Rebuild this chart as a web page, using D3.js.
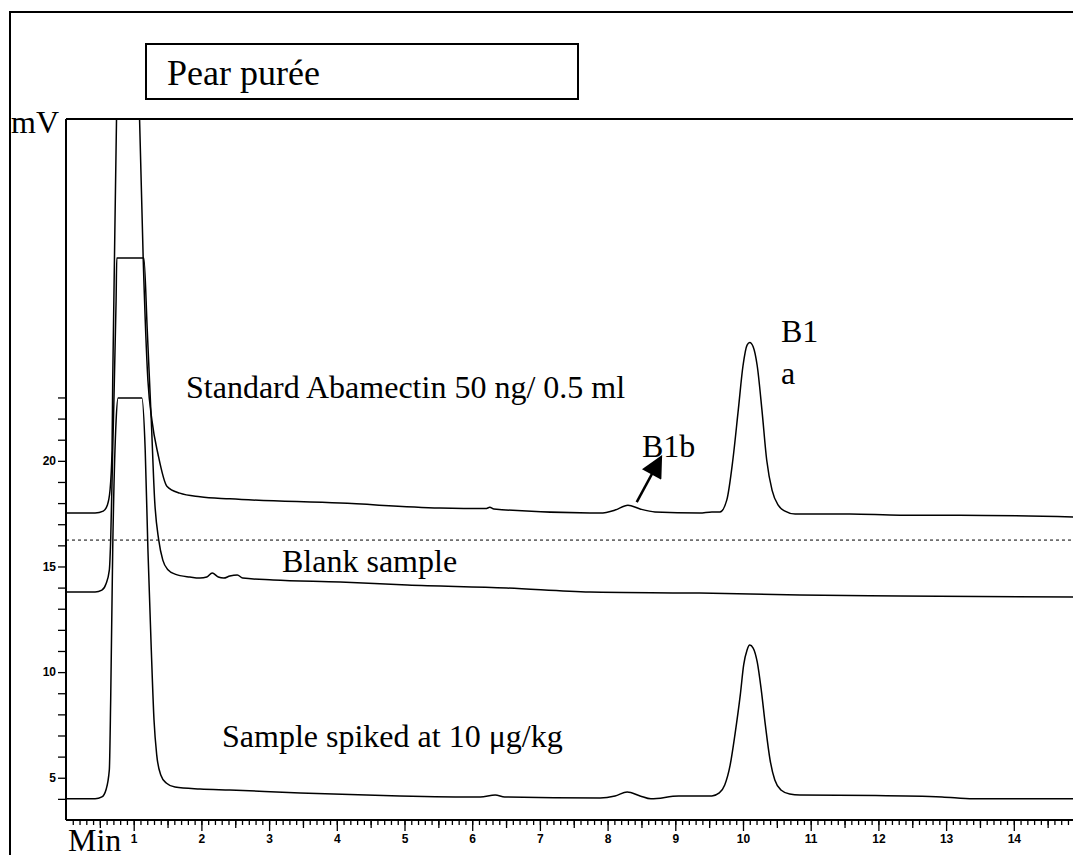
<!DOCTYPE html>
<html>
<head>
<meta charset="utf-8">
<script src="https://cdn.jsdelivr.net/npm/d3@7"></script>
<style>
  body { margin: 0; background: #fff; }
  svg { display: block; }
  .lbl { font-family: "Liberation Serif", "Times New Roman", serif; fill: #000; }
  .tick text { font-family: "Liberation Sans", Arial, sans-serif; font-weight: bold; font-size: 12px; }
</style>
</head>
<body>
<div id="chart"></div>
<script>
// retention time (min) / signal (mV)
var standardTime = [0, 0.43, 0.55, 0.61, 0.65, 0.68, 0.69, 0.75, 0.76, 1.06, 1.08, 1.14, 1.21, 1.27, 1.36, 1.49, 1.68, 1.98, 2.42,
    4.05, 5.52, 6.2, 6.26, 6.32, 7.74, 7.89, 8.11, 8.3, 8.48, 8.7, 9.36, 9.54, 9.66, 9.76, 9.85, 9.93, 10.0, 10.06, 10.1,
    10.15, 10.21, 10.28, 10.35, 10.43, 10.52, 10.62, 10.77, 11.58, 12.32, 13.2, 14.9];
var standardMv = [17.53, 17.53, 17.62, 17.9, 18.6, 20.5, 23.8, 37, 40, 40, 37, 29.6, 23.8, 21.9, 20.3, 18.8, 18.47, 18.3, 18.2,
    18.0, 17.77, 17.74, 17.8, 17.72, 17.53, 17.53, 17.67, 17.9, 17.72, 17.58, 17.53, 17.58, 17.58, 18.14, 20.04, 22.4, 24.5, 25.48, 25.6,
    25.4, 24.5, 22.4, 20.04, 18.6, 17.9, 17.62, 17.48, 17.48, 17.43, 17.43, 17.34];

var blankTime = [0, 0.43, 0.53, 0.59, 0.64, 0.66, 0.69, 0.74, 0.75, 1.15, 1.2, 1.26, 1.31, 1.37, 1.43, 1.51, 1.61, 1.83, 1.98,
    2.08, 2.16, 2.25, 2.33, 2.42, 2.53, 2.61, 3.06, 4.05, 5.04, 6.51, 7.74, 9.36, 10.84, 12.32, 14.9];
var blankMv = [13.79, 13.79, 13.88, 14.17, 14.83, 16.25, 20.5, 27.6, 29.6, 29.6, 26.2, 21.9, 18.1, 16.25, 15.3, 14.83, 14.64, 14.5, 14.45,
    14.5, 14.69, 14.5, 14.45, 14.55, 14.6, 14.45, 14.36, 14.26, 14.12, 13.98, 13.79, 13.74, 13.65, 13.6, 13.55];

var spikedTime = [0, 0.43, 0.53, 0.59, 0.64, 0.66, 0.69, 0.74, 0.77, 1.12, 1.17, 1.21, 1.26, 1.3, 1.34, 1.4, 1.48, 1.61, 1.98, 2.42,
    3.46, 4.93, 6.12, 6.34, 6.48, 7.89, 8.11, 8.29, 8.48, 8.64, 9.05, 9.47, 9.54, 9.65, 9.73, 9.81, 9.88, 9.96, 10.01, 10.06, 10.1,
    10.15, 10.21, 10.27, 10.33, 10.4, 10.47, 10.56, 10.69, 10.84, 11.96, 12.94, 13.4, 14.9];
var spikedMv = [4.0, 4.0, 4.09, 4.42, 5.37, 8.68, 15.8, 21.9, 22.97, 22.97, 20.5, 15.8, 11.05, 7.73, 6.08, 5.13, 4.75, 4.56, 4.47, 4.42,
    4.28, 4.14, 4.09, 4.18, 4.09, 4.04, 4.14, 4.33, 4.14, 4.0, 4.14, 4.14, 4.14, 4.28, 4.66, 5.6, 7.02, 8.92, 10.34, 11.05, 11.28,
    11.14, 10.48, 9.15, 7.5, 5.84, 4.89, 4.42, 4.23, 4.18, 4.16, 4.09, 4.0, 4.0];

var dividerMv = 16.25;
var yTickValues = [4, 5, 6, 7, 8, 9, 10, 11, 12, 13, 14, 15, 16, 17, 18, 19, 20, 21, 22, 23];
var xLabelValues = [1, 2, 3, 4, 5, 6, 7, 8, 9, 10, 11, 12, 13, 14];
// B1b arrow: tail and tip (min, mV)
var arrowTime = [8.43, 8.79];
var arrowMv = [18.05, 20.18];

function drawChart() {
    var W = 1073, H = 855;
    var plotLeft = 66, plotTop = 119, plotBottom = 820;

    var svg = d3.select("#chart").append("svg")
        .attr("width", W)
        .attr("height", H);

    var x = d3.scaleLinear().domain([0, 15]).range([plotLeft, plotLeft + 15 * 67.7]);
    var y = d3.scaleLinear().domain([3, 36.18]).range([plotBottom, plotTop]);

    var defs = svg.append("defs");

    // outer frame
    svg.append("path")
        .attr("d", "M10," + H + "V12H" + W)
        .attr("fill", "none").attr("stroke", "#000").attr("stroke-width", 2);

    // title box
    svg.append("rect")
        .attr("x", 146).attr("y", 44).attr("width", 432).attr("height", 55)
        .attr("fill", "none").attr("stroke", "#000").attr("stroke-width", 2);
    svg.append("text").attr("class", "lbl")
        .attr("x", 167).attr("y", 85).style("font-size", "36px")
        .text("Pear purée");

    defs.append("clipPath").attr("id", "plotclip")
        .append("rect").attr("x", plotLeft).attr("y", plotTop)
        .attr("width", W - plotLeft).attr("height", plotBottom - plotTop);

    // plot frame: top line
    svg.append("line")
        .attr("x1", plotLeft).attr("x2", W).attr("y1", plotTop).attr("y2", plotTop)
        .attr("stroke", "#000").attr("stroke-width", 2);

    // dashed divider
    svg.append("line")
        .attr("x1", plotLeft).attr("x2", W).attr("y1", y(dividerMv)).attr("y2", y(dividerMv))
        .attr("stroke", "#000").attr("stroke-width", 1).attr("stroke-dasharray", "3,3");

    var line = d3.line()
        .curve(d3.curveMonotoneX)
        .x(function(d) { return x(d[0]); })
        .y(function(d) { return y(d[1]); });

    var traces = [
        d3.zip(standardTime, standardMv),
        d3.zip(blankTime, blankMv),
        d3.zip(spikedTime, spikedMv)
    ];

    svg.append("g").attr("clip-path", "url(#plotclip)")
        .selectAll("path")
        .data(traces)
        .enter()
        .append("path")
        .attr("d", line)
        .attr("fill", "none")
        .attr("stroke", "#000")
        .attr("stroke-width", 1.5);

    // y axis
    var yAxis = d3.axisLeft(y)
        .tickValues(yTickValues)
        .tickSize(8)
        .tickPadding(2)
        .tickFormat(function(d) { return d % 5 === 0 ? d : ""; });
    var gy = svg.append("g").attr("transform", "translate(" + plotLeft + ",0)").call(yAxis);
    gy.select(".domain").attr("d", "M0," + plotTop + "V" + plotBottom).attr("stroke-width", 2);

    // x axis: minor, half and whole-minute ticks
    var minorVals = d3.range(1, 150).map(function(i) { return i / 10; });
    var halfVals = d3.range(1, 30, 2).map(function(i) { return i / 2; });

    var gx = svg.append("g").attr("transform", "translate(0," + plotBottom + ")");
    gx.append("g").call(d3.axisBottom(x).tickValues(minorVals).tickSize(5).tickFormat(""));
    gx.append("g").call(d3.axisBottom(x).tickValues(halfVals).tickSize(8).tickFormat(""));
    gx.append("g").call(d3.axisBottom(x).tickValues(xLabelValues).tickSize(11).tickPadding(3).tickFormat(d3.format("d")));
    gx.selectAll(".domain").remove();
    gx.append("line").attr("x1", plotLeft).attr("x2", W).attr("y1", 0).attr("y2", 0)
        .attr("stroke", "#000").attr("stroke-width", 2);
    gx.selectAll(".tick line").attr("stroke-width", 1.3);
    gy.selectAll(".tick line").attr("stroke-width", 1.3);

    // axis unit labels
    svg.append("text").attr("class", "lbl").attr("x", 11).attr("y", 133).style("font-size", "32px").text("mV");
    svg.append("text").attr("class", "lbl").attr("x", 68).attr("y", 851).style("font-size", "32px").text("Min");

    // trace labels
    var notes = [
        { t: "Standard Abamectin 50 ng/ 0.5 ml", x: 186, y: 398 },
        { t: "Blank sample", x: 282, y: 572 },
        { t: "Sample spiked at 10 \u03bcg/kg", x: 222, y: 747 },
        { t: "B1", x: 781, y: 342 },
        { t: "a", x: 781, y: 384 },
        { t: "B1b", x: 642, y: 457 }
    ];
    svg.selectAll("text.note")
        .data(notes)
        .enter()
        .append("text")
        .attr("class", "lbl note")
        .attr("x", function(d) { return d.x; })
        .attr("y", function(d) { return d.y; })
        .style("font-size", "32px")
        .text(function(d) { return d.t; });

    // arrow to B1b
    defs.append("marker")
        .attr("id", "head")
        .attr("viewBox", "0 0 10 10")
        .attr("refX", 9).attr("refY", 5)
        .attr("markerWidth", 26).attr("markerHeight", 22)
        .attr("markerUnits", "userSpaceOnUse")
        .attr("orient", "auto")
        .append("path").attr("d", "M0,0L10,5L0,10Z").attr("fill", "#000");

    svg.append("line")
        .attr("x1", x(arrowTime[0])).attr("y1", y(arrowMv[0]))
        .attr("x2", x(arrowTime[1])).attr("y2", y(arrowMv[1]))
        .attr("stroke", "#000").attr("stroke-width", 2.5)
        .attr("marker-end", "url(#head)");
}

drawChart();
</script>
</body>
</html>
